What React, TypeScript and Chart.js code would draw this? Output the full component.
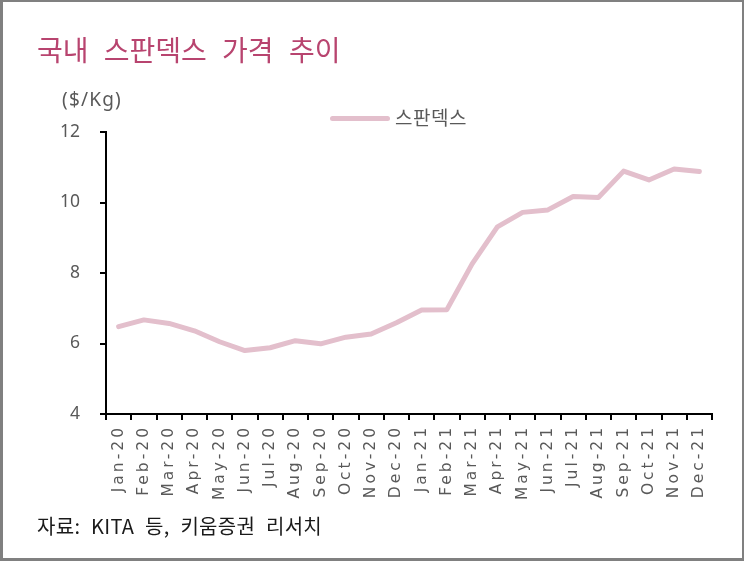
import React, { useEffect, useRef } from "react";
import { Chart, registerables } from "chart.js";

Chart.register(...registerables);

const TITLE = "국내 스판덱스 가격 추이";
const UNIT = "($/Kg)";
const SOURCE = "자료: KITA 등, 키움증권 리서치";
const SERIES_NAME = "스판덱스";

const MONTHS = [
  "Jan-20", "Feb-20", "Mar-20", "Apr-20", "May-20", "Jun-20",
  "Jul-20", "Aug-20", "Sep-20", "Oct-20", "Nov-20", "Dec-20",
  "Jan-21", "Feb-21", "Mar-21", "Apr-21", "May-21", "Jun-21",
  "Jul-21", "Aug-21", "Sep-21", "Oct-21", "Nov-21", "Dec-21",
];

const SPANDEX = [
  6.48, 6.67, 6.57, 6.36, 6.05, 5.8, 5.88, 6.08, 5.99, 6.18, 6.27, 6.59,
  6.95, 6.96, 8.26, 9.31, 9.72, 9.79, 10.17, 10.14, 10.89, 10.64, 10.95, 10.88,
];

const Y_MIN = 4;
const Y_MAX = 12;
const Y_STEP = 2;

const LINE_COLOR = "#e3bfcc";
const TEXT_GRAY = "#595959";
const LATIN = "'Noto Sans', 'Noto Sans CJK KR', sans-serif";
const XFONT = "'DejaVu Sans', 'Noto Sans', sans-serif";
const KR = "'Noto Sans CJK KR', 'Noto Sans', sans-serif";

export default function App() {
  const ref = useRef<HTMLCanvasElement | null>(null);

  useEffect(() => {
    if (!ref.current) return;
    const spacing = {
      id: "xLabelSpacing",
      afterDatasetsDraw(chart: any) {
        chart.ctx.letterSpacing = "3px";
      },
      afterDraw(chart: any) {
        chart.ctx.letterSpacing = "0px";
      },
    };
    const chart = new Chart(ref.current, {
      type: "line",
      data: {
        labels: MONTHS,
        datasets: [
          {
            label: SERIES_NAME,
            data: SPANDEX,
            borderColor: LINE_COLOR,
            backgroundColor: LINE_COLOR,
            borderWidth: 5,
            pointRadius: 0,
            pointHoverRadius: 0,
            tension: 0,
            borderJoinStyle: "round",
            borderCapStyle: "round",
          },
        ],
      },
      options: {
        responsive: false,
        animation: false,
        devicePixelRatio: 1,
        layout: { padding: { left: 50, right: 32, top: 132, bottom: 10 } },
        plugins: {
          legend: { display: false },
          tooltip: { enabled: false },
          title: { display: false },
        },
        scales: {
          x: {
            type: "category",
            offset: true,
            grid: {
              display: true,
              drawOnChartArea: false,
              drawTicks: true,
              tickLength: 6,
              color: "#000",
              lineWidth: 2,
              offset: true,
            },
            border: { display: true, color: "#000", width: 2 },
            ticks: {
              autoSkip: false,
              maxRotation: 90,
              minRotation: 90,
              padding: 5,
              color: TEXT_GRAY,
              font: { family: XFONT, size: 15.5 },
              z: 1,
            },
            afterFit: (s: any) => {
              s.height = 561 - 414 - 10;
            },
          },
          y: {
            min: Y_MIN,
            max: Y_MAX,
            ticks: {
              stepSize: Y_STEP,
              padding: 20,
              color: TEXT_GRAY,
              font: { family: LATIN, size: 17.5 },
            },
            grid: {
              display: true,
              drawOnChartArea: false,
              drawTicks: true,
              tickLength: 6,
              color: "#000",
              lineWidth: 2,
            },
            border: { display: true, color: "#000", width: 2 },
            afterFit: (s: any) => {
              s.width = 56;
            },
          },
        },
      },
      plugins: [spacing],
    });
    return () => chart.destroy();
  }, []);

  return (
    <div
      style={{
        position: "fixed",
        left: 0,
        top: 0,
        width: 744,
        height: 561,
        background: "#fff",
        overflow: "hidden",
      }}
    >
      <canvas
        ref={ref}
        width={744}
        height={561}
        style={{ position: "absolute", left: 0, top: 0, width: 744, height: 561 }}
      />
      <div
        style={{
          position: "absolute",
          left: 37,
          top: 29,
          fontFamily: KR,
          fontSize: 28,
          lineHeight: "normal",
          wordSpacing: 9,
          color: "#b8446f",
          whiteSpace: "nowrap",
        }}
      >
        {TITLE}
      </div>
      <div
        style={{
          position: "absolute",
          left: 62,
          top: 86,
          fontFamily: LATIN,
          fontSize: 19,
          letterSpacing: 1.2,
          color: TEXT_GRAY,
          whiteSpace: "nowrap",
        }}
      >
        {UNIT}
      </div>
      <div
        style={{
          position: "absolute",
          left: 330,
          top: 116,
          width: 60,
          height: 5,
          borderRadius: 3,
          background: LINE_COLOR,
        }}
      />
      <div
        style={{
          position: "absolute",
          left: 395,
          top: 103,
          fontFamily: KR,
          fontSize: 19,
          letterSpacing: 0.5,
          color: TEXT_GRAY,
          whiteSpace: "nowrap",
        }}
      >
        {SERIES_NAME}
      </div>
      <div
        style={{
          position: "absolute",
          left: 37,
          top: 511,
          fontFamily: KR,
          fontSize: 20,
          wordSpacing: 6,
          letterSpacing: 0.3,
          color: "#1a1a1a",
          whiteSpace: "nowrap",
        }}
      >
        {SOURCE}
      </div>
      <div
        style={{
          position: "absolute",
          left: 0,
          top: 0,
          width: 744,
          height: 561,
          boxSizing: "border-box",
          borderStyle: "solid",
          borderColor: "#808080",
          borderWidth: "2px 2px 3px 3px",
          pointerEvents: "none",
        }}
      />
    </div>
  );
}
